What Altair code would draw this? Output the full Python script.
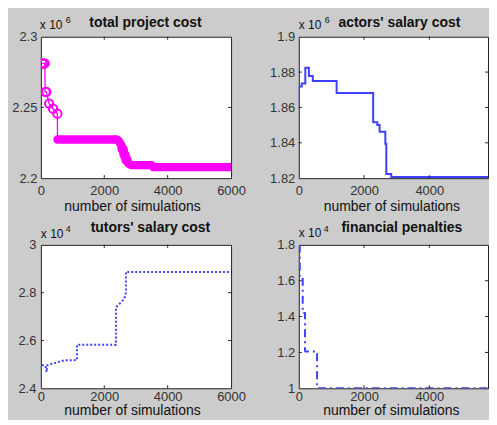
import altair as alt
import pandas as pd

# ---------------- values ----------------
# total project cost (x 10^6)
cost_x = [40, 80, 125, 135, 150, 175, 260, 385, 520, 525, 560, 2400, 2460, 2520, 2580,
          2640, 2700, 2760, 2820, 2900, 3500, 3550, 6000]
cost_y = [2.2811, 2.2811, 2.2811, 2.2615, 2.2610, 2.2610, 2.2527, 2.2491, 2.2456, 2.2273,
          2.2273, 2.2273, 2.2262, 2.2240, 2.2205, 2.2165, 2.2130, 2.2105, 2.2095, 2.2092,
          2.2092, 2.2078, 2.2078]
cost_marker_x = [40, 80, 120, 150, 175, 260, 385, 520, 2580, 2640, 2700]
cost_marker_y = [2.2811, 2.2811, 2.2811, 2.2610, 2.2610, 2.2527, 2.2491, 2.2456,
                 2.2205, 2.2165, 2.2130]

# actors' salary cost (x 10^6), step-after
actors_x = [0, 0, 90, 200, 310, 430, 1160, 2280, 2408, 2478, 2652, 2682, 2834, 6000]
actors_y = [1.8596, 1.8718, 1.8736, 1.8825, 1.8778, 1.8749, 1.8682, 1.8516, 1.8501,
            1.8463, 1.8395, 1.8223, 1.8206, 1.8206]

# tutors' salary cost (x 10^4)
tutors_x = [0, 0, 126, 150, 179, 210, 737, 1137, 1137, 2368, 2368, 2473, 2630, 2684, 2684, 6000]
tutors_y = [2.40, 2.496, 2.496, 2.49, 2.468, 2.497, 2.517, 2.518, 2.582, 2.582, 2.739,
            2.752, 2.774, 2.80, 2.887, 2.887]

# financial penalties (x 10^4)
pen_x = [30, 30, 120, 120, 190, 190, 200, 560, 560, 6000]
pen_y = [1.80, 1.61, 1.61, 1.42, 1.42, 1.21, 1.205, 1.205, 1.0, 1.0]

x_ticks_left = [0, 2000, 4000, 6000]
x_ticks_right = [0, 2000, 4000]
cost_ticks = [2.2, 2.25, 2.3]
actors_ticks = [1.82, 1.84, 1.86, 1.88, 1.9]
tutors_ticks = [2.4, 2.6, 2.8, 3]
pen_ticks = [1, 1.2, 1.4, 1.6, 1.8]

# ---------------- styling ----------------
FONT = "Liberation Sans"
BG = "#cccccc"
MAG = "#ff00ff"
BLUE = "#4040ff"
INK = "#111111"
LAB = "#333333"
W_L, W_R, H_T, H_B = 191, 190, 142, 144
TICK = 3


def df_xy(xs, ys):
    return pd.DataFrame({"x": xs, "y": ys, "i": list(range(len(xs)))})


def encodings(xdom, ydom, xticks, yticks, xpad, ypad):
    sx = alt.Scale(domain=xdom, nice=False, zero=False)
    sy = alt.Scale(domain=ydom, nice=False, zero=False)
    X = alt.X("x:Q", scale=sx, title=None,
              axis=alt.Axis(values=xticks, format="d", labelPadding=xpad,
                            labelFlush=False, labelOverlap=False))
    Y = alt.Y("y:Q", scale=sy, title=None,
              axis=alt.Axis(values=yticks, format="~g", labelPadding=ypad,
                            labelOverlap=False))
    return X, Y


def decorations(X, Y, xdom, ydom, xticks, yticks, w, h, texts):
    xin = pd.DataFrame({"x": [t for t in xticks if xdom[0] < t < xdom[1]]})
    yin = pd.DataFrame({"y": [t for t in yticks if ydom[0] < t < ydom[1]]})
    rule = dict(color="#222222", strokeWidth=1)
    out = [
        alt.Chart(xin).mark_rule(**rule).encode(x=X, y=alt.value(0), y2=alt.value(TICK)),
        alt.Chart(xin).mark_rule(**rule).encode(x=X, y=alt.value(h), y2=alt.value(h - TICK)),
        alt.Chart(yin).mark_rule(**rule).encode(y=Y, x=alt.value(0), x2=alt.value(TICK)),
        alt.Chart(yin).mark_rule(**rule).encode(y=Y, x=alt.value(w), x2=alt.value(w - TICK)),
    ]
    one = pd.DataFrame({"k": [0]})
    for txt, dx, dy, size, weight, align in texts:
        out.append(
            alt.Chart(one).mark_text(text=txt, font=FONT, fontSize=size, fontWeight=weight,
                                     align=align, baseline="middle", color=INK)
            .encode(x=alt.value(dx), y=alt.value(dy))
        )
    return out


# ---------- panel 1: total project cost ----------
xd1, yd1 = [0, 6000], [2.2, 2.3]
X1, Y1 = encodings(xd1, yd1, x_ticks_left, cost_ticks, 6, 4)
cost_df = df_xy(cost_x, cost_y)
band_df = cost_df[cost_df["x"] >= 525]
mark_df = df_xy(cost_marker_x, cost_marker_y)
p1_layers = [
    alt.Chart(band_df).mark_line(color=MAG, strokeWidth=8.5, strokeCap="round",
                                 strokeJoin="round", clip=True)
    .encode(x=X1, y=Y1, order="i:Q"),
    alt.Chart(cost_df).mark_line(color=MAG, strokeWidth=1.3, clip=True)
    .encode(x=X1, y=Y1, order="i:Q"),
    alt.Chart(mark_df).mark_point(shape="circle", filled=False, color=MAG, size=70,
                                  strokeWidth=2, opacity=1, clip=True)
    .encode(x=X1, y=Y1),
]
p1_layers += decorations(X1, Y1, xd1, yd1, x_ticks_left, cost_ticks, W_L, H_T, [
    ("total project cost", 105, -14, 14, "bold", "center"),
    ("x 10", -1, -12, 12, "normal", "left"),
    ("6", 25, -17, 9, "normal", "left"),
    ("number of simulations", 92, 171, 14, "normal", "center"),
])
# layout anchor (invisible) fixing the top-left corner of the figure
p1_layers.append(
    alt.Chart(pd.DataFrame({"k": [0]})).mark_rule(strokeOpacity=0)
    .encode(x=alt.value(-32), x2=alt.value(-31), y=alt.value(-27), y2=alt.value(-26))
)
p1 = alt.layer(*p1_layers).properties(width=W_L, height=H_T)

# ---------- panel 2: actors' salary cost ----------
xd2, yd2 = [0, 5800], [1.82, 1.9]
X2, Y2 = encodings(xd2, yd2, x_ticks_right, actors_ticks, 6, 4)
p2_layers = [
    alt.Chart(df_xy(actors_x, actors_y)).mark_line(color=BLUE, strokeWidth=2,
                                                   interpolate="step-after", clip=True)
    .encode(x=X2, y=Y2, order="i:Q"),
]
p2_layers += decorations(X2, Y2, xd2, yd2, x_ticks_right, actors_ticks, W_R, H_T, [
    ("actors' salary cost", 101, -14, 14, "bold", "center"),
    ("x 10", 0, -12, 12, "normal", "left"),
    ("6", 26, -17, 9, "normal", "left"),
    ("number of simulations", 93.5, 171, 14, "normal", "center"),
])
p2 = alt.layer(*p2_layers).properties(width=W_R, height=H_T)

# ---------- panel 3: tutors' salary cost ----------
xd3, yd3 = [0, 6000], [2.4, 3.0]
X3, Y3 = encodings(xd3, yd3, x_ticks_left, tutors_ticks, 2, 5)
p3_layers = [
    alt.Chart(df_xy(tutors_x, tutors_y)).mark_line(color=BLUE, strokeWidth=2,
                                                   strokeDash=[2, 2], clip=True)
    .encode(x=X3, y=Y3, order="i:Q"),
]
p3_layers += decorations(X3, Y3, xd3, yd3, x_ticks_left, tutors_ticks, W_L, H_B, [
    ("tutors' salary cost", 110, -17, 14, "bold", "center"),
    ("x 10", 0, -11, 12, "normal", "left"),
    ("4", 25, -16, 9, "normal", "left"),
    ("number of simulations", 92, 167, 14, "normal", "center"),
])
p3 = alt.layer(*p3_layers).properties(width=W_L, height=H_B)

# ---------- panel 4: financial penalties ----------
xd4, yd4 = [0, 5800], [1.0, 1.8]
X4, Y4 = encodings(xd4, yd4, x_ticks_right, pen_ticks, 2, 4)
p4_layers = [
    alt.Chart(df_xy(pen_x, pen_y)).mark_line(color=BLUE, strokeWidth=2,
                                             strokeDash=[8, 4, 2, 4], clip=True)
    .encode(x=X4, y=Y4, order="i:Q"),
]
p4_layers += decorations(X4, Y4, xd4, yd4, x_ticks_right, pen_ticks, W_R, H_B, [
    ("financial penalties", 103.5, -17, 14, "bold", "center"),
    ("x 10", 0, -12, 12, "normal", "left"),
    ("4", 25, -16, 9, "normal", "left"),
    ("number of simulations", 93, 167, 14, "normal", "center"),
])
p4 = alt.layer(*p4_layers).properties(width=W_R, height=H_B)

chart = alt.concat(
    p1, p2, p3, p4, columns=2,
    spacing={"row": 67, "column": 68},
    bounds="flush", align="each",
    padding=0, background=BG,
).configure_view(
    fill="white", stroke="#222222", strokeWidth=1
).configure_axis(
    domain=False, grid=False, ticks=False, tickSize=0,
    labelFont=FONT, labelFontSize=13, labelColor=LAB,
)

chart.save("out.html", embed_options={"renderer": "svg", "actions": False})
